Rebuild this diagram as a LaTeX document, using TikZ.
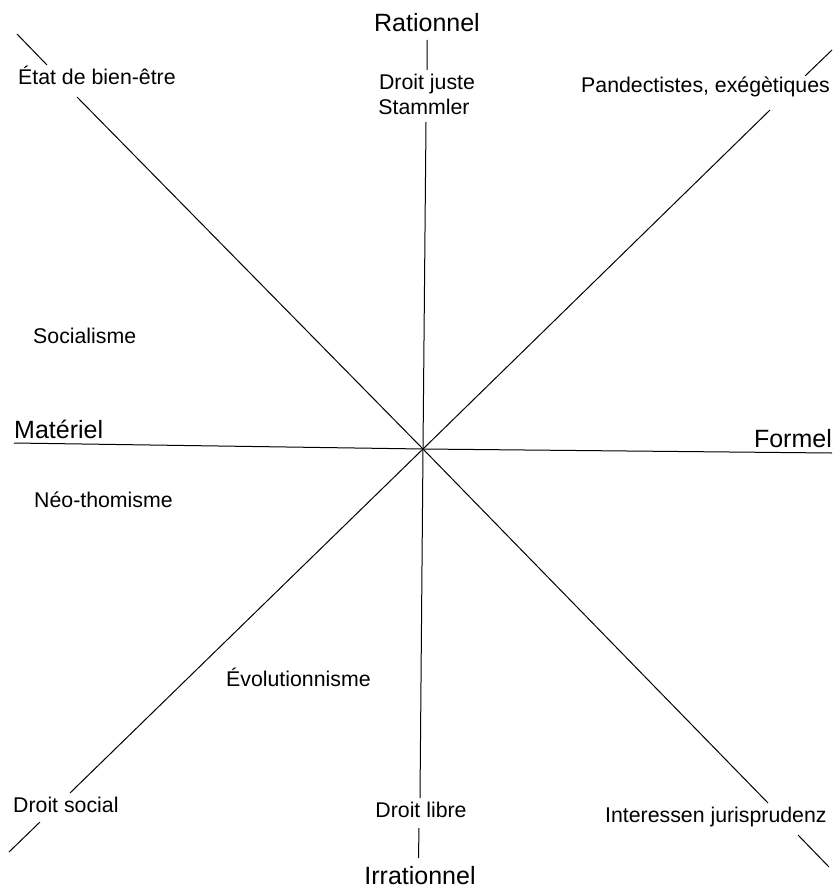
\documentclass[tikz,border=0pt]{standalone}
\usepackage{fontspec}
\setmainfont{Liberation Sans}
\usetikzlibrary{positioning}
\tikzset{
  axisline/.style={line width=1pt,black},
  pole/.style={inner sep=0pt,font=\fontsize{25}{30}\selectfont},
  school/.style={inner sep=0pt,font=\fontsize{21.3}{25}\selectfont},
}

\begin{document}
\begin{tikzpicture}[x=1pt,y=-1pt]
  \useasboundingbox (0,0) rectangle (832,888);
  % poles
  \node[pole,anchor=base] (rat) at (427,32) {Rationnel};
  \node[pole,anchor=base] (irr) at (420,884) {Irrationnel};
  \node[pole,anchor=base west] (mat) at (14,438) {Matériel};
  \node[pole,anchor=base east] (for) at (832,447) {Formel};
  % schools
  \node[school,anchor=base] (juste) at (427,90) {Droit juste};
  \node[school,anchor=base] (stam) at (424,115) {Stammler};
  \node[school,anchor=base west] (etat) at (18,85) {État de bien-être};
  \node[school,anchor=base west] (pand) at (581,93) {Pandectistes, exégètiques};
  \node[school,anchor=base west] (soc) at (33,343) {Socialisme};
  \node[school,anchor=base west] (neo) at (34,507) {Néo-thomisme};
  \node[school,anchor=base west] (evo) at (226,686) {Évolutionnisme};
  \node[school,anchor=base west] (dsoc) at (13,812) {Droit social};
  \node[school,anchor=base] (dlib) at (421,817) {Droit libre};
  \node[school,anchor=base west] (inter) at (605,822) {Interessen jurisprudenz};
  % line ends
  \coordinate (c) at (423,449);
  \coordinate (v1) at (427,40);  \coordinate (v2) at (427,70);
  \coordinate (v3) at (426,122); \coordinate (v4) at (420,798);
  \coordinate (v5) at (419,828); \coordinate (v6) at (418.5,858);
  \coordinate (h1) at (14,443);  \coordinate (h2) at (832,453);
  \coordinate (a1) at (17,34);   \coordinate (a2) at (47,65);
  \coordinate (a3) at (77,97);   \coordinate (a4) at (768,803);
  \coordinate (a5) at (798,835); \coordinate (a6) at (829,867);
  \coordinate (b1) at (9,852);   \coordinate (b2) at (40,822);
  \coordinate (b3) at (70,793);  \coordinate (b4) at (770,110);
  \coordinate (b5) at (805,76);  \coordinate (b6) at (832,50);
  % axes
  \draw[axisline] (v1) -- (v2) (v3) -- (c) -- (v4) (v5) -- (v6);
  \draw[axisline] (h1) -- (c) -- (h2);
  \draw[axisline] (a1) -- (a2) (a3) -- (c) -- (a4) (a5) -- (a6);
  \draw[axisline] (b1) -- (b2) (b3) -- (c) -- (b4) (b5) -- (b6);
\end{tikzpicture}
\end{document}
